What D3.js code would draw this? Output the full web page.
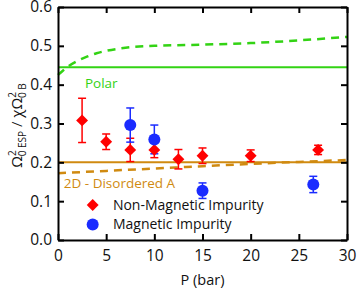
<!DOCTYPE html>
<html>
<head>
<meta charset="utf-8">
<script src="https://cdn.jsdelivr.net/npm/d3@7"></script>
<style>
  body { margin: 0; background: #fff; }
  text { font-family: "Open Sans", "DejaVu Sans", sans-serif; }
</style>
</head>
<body>
<div id="chart"></div>
<script>
// data
var nonMagP   = [2.5, 5, 7.5, 10, 12.5, 15, 20, 27];
var nonMagVal = [0.308, 0.253, 0.232, 0.232, 0.208, 0.217, 0.217, 0.232];
var nonMagErr = [0.057, 0.02, 0.03, 0.02, 0.025, 0.02, 0.015, 0.012];

var magP   = [7.5, 10, 15, 26.5];
var magVal = [0.296, 0.259, 0.127, 0.143];
var magErr = [0.044, 0.037, 0.02, 0.021];

var polarLevel = 0.445;
var disorderedLevel = 0.2;

var polarCurveP   = [0, 0.5, 1, 2, 3, 4, 5, 7, 10, 15, 20, 25, 30];
var polarCurveVal = [0.425, 0.436, 0.446, 0.461, 0.472, 0.481, 0.487, 0.495, 0.5, 0.503, 0.507, 0.514, 0.523];

var disCurveP   = [0, 5, 10, 15, 20, 25, 30];
var disCurveVal = [0.172, 0.178, 0.184, 0.19, 0.196, 0.201, 0.206];

var xTicks = [0, 5, 10, 15, 20, 25, 30];
var yTicks = [0, 0.1, 0.2, 0.3, 0.4, 0.5, 0.6];

(function () {
    var W = 357, H = 293;
    var margin = {top: 7, right: 10, bottom: 53, left: 58};
    var width = W - margin.left - margin.right,
        height = H - margin.top - margin.bottom;

    var svg = d3.select("#chart").append("svg")
        .attr("width", W).attr("height", H)
        .append("g")
        .attr("transform", "translate(" + margin.left + "," + margin.top + ")");

    var x = d3.scaleLinear().domain([0, 30]).range([0, width]);
    var y = d3.scaleLinear().domain([0, 0.6]).range([height, 0]);

    var green = "#33d314", orange = "#d08a10";

    // reference lines
    svg.append("line")
        .attr("x1", x(0)).attr("x2", x(30))
        .attr("y1", y(polarLevel)).attr("y2", y(polarLevel))
        .attr("stroke", green).attr("stroke-width", 2);
    svg.append("line")
        .attr("x1", x(0)).attr("x2", x(30))
        .attr("y1", y(disorderedLevel)).attr("y2", y(disorderedLevel))
        .attr("stroke", orange).attr("stroke-width", 2);

    var line = d3.line()
        .x(function (d) { return x(d[0]); })
        .y(function (d) { return y(d[1]); })
        .curve(d3.curveMonotoneX);

    svg.append("path")
        .datum(d3.zip(polarCurveP, polarCurveVal))
        .attr("d", line)
        .attr("fill", "none").attr("stroke", green)
        .attr("stroke-width", 2.5).attr("stroke-dasharray", "8,6");
    svg.append("path")
        .datum(d3.zip(disCurveP, disCurveVal))
        .attr("d", line)
        .attr("fill", "none").attr("stroke", orange)
        .attr("stroke-width", 2.5).attr("stroke-dasharray", "8,6");

    // error bars + markers
    function errBars(ps, vs, es, color) {
        var g = svg.append("g");
        ps.forEach(function (p, i) {
            var cx = x(p), lo = y(vs[i] - es[i]), hi = y(vs[i] + es[i]);
            g.append("line").attr("x1", cx).attr("x2", cx).attr("y1", lo).attr("y2", hi)
                .attr("stroke", color).attr("stroke-width", 1.5);
            [lo, hi].forEach(function (yy) {
                g.append("line").attr("x1", cx - 4).attr("x2", cx + 4).attr("y1", yy).attr("y2", yy)
                    .attr("stroke", color).attr("stroke-width", 1.5);
            });
        });
    }
    errBars(nonMagP, nonMagVal, nonMagErr, "#ff0000");
    errBars(magP, magVal, magErr, "#1a2bff");

    var diamond = d3.symbol().type(d3.symbolDiamond2).size(90);
    svg.append("g").selectAll("path")
        .data(d3.zip(nonMagP, nonMagVal))
        .enter().append("path")
        .attr("d", diamond)
        .attr("transform", function (d) { return "translate(" + x(d[0]) + "," + y(d[1]) + ")"; })
        .attr("fill", "#ff0000");

    svg.append("g").selectAll("circle")
        .data(d3.zip(magP, magVal))
        .enter().append("circle")
        .attr("cx", function (d) { return x(d[0]); })
        .attr("cy", function (d) { return y(d[1]); })
        .attr("r", 6)
        .attr("fill", "#1a2bff");

    // axes, ticks inside on all four sides
    var tk = 6;
    svg.append("g").attr("transform", "translate(0," + height + ")")
        .call(d3.axisBottom(x).tickValues(xTicks).tickSizeInner(-tk).tickSizeOuter(0).tickPadding(10))
        .call(function (g) {
            g.select(".domain").attr("stroke-width", 2);
            g.selectAll(".tick line").attr("stroke-width", 2);
            g.selectAll("text").style("font-size", "15.5px").attr("fill", "#111");
        });
    svg.append("g")
        .call(d3.axisTop(x).tickValues(xTicks).tickSizeInner(-tk).tickSizeOuter(0).tickFormat(""))
        .call(function (g) {
            g.select(".domain").attr("stroke-width", 2);
            g.selectAll(".tick line").attr("stroke-width", 2);
        });
    svg.append("g")
        .call(d3.axisLeft(y).tickValues(yTicks).tickSizeInner(-tk).tickSizeOuter(0).tickPadding(6)
            .tickFormat(d3.format(".1f")))
        .call(function (g) {
            g.select(".domain").attr("stroke-width", 2);
            g.selectAll(".tick line").attr("stroke-width", 2);
            g.selectAll("text").style("font-size", "15.5px").attr("fill", "#111");
        });
    svg.append("g").attr("transform", "translate(" + width + ",0)")
        .call(d3.axisRight(y).tickValues(yTicks).tickSizeInner(-tk).tickSizeOuter(0).tickFormat(""))
        .call(function (g) {
            g.select(".domain").attr("stroke-width", 2);
            g.selectAll(".tick line").attr("stroke-width", 2);
        });

    // line labels
    svg.append("text").attr("x", x(2.8)).attr("y", y(0.392))
        .style("font-size", "13.5px").attr("fill", green).text("Polar");
    svg.append("text").attr("x", x(0.6)).attr("y", y(0.135))
        .style("font-size", "13.5px").attr("fill", orange).text("2D - Disordered A");

    // legend
    svg.append("path").attr("d", diamond)
        .attr("transform", "translate(" + x(3.6) + "," + y(0.09) + ")").attr("fill", "#ff0000");
    svg.append("text").attr("x", x(5.7)).attr("y", y(0.09)).attr("dy", "0.35em")
        .style("font-size", "14px").attr("fill", "#111").text("Non-Magnetic Impurity");
    svg.append("circle").attr("cx", x(3.6)).attr("cy", y(0.04)).attr("r", 6).attr("fill", "#1a2bff");
    svg.append("text").attr("x", x(5.7)).attr("y", y(0.04)).attr("dy", "0.35em")
        .style("font-size", "14px").attr("fill", "#111").text("Magnetic Impurity");

    // axis titles
    svg.append("text").attr("x", width / 2).attr("y", height + 45)
        .attr("text-anchor", "middle").style("font-size", "14.5px").attr("fill", "#111")
        .text("P (bar)");

    var yl = svg.append("text")
        .attr("transform", "translate(-36," + (height / 2 + 2) + ") rotate(-90)")
        .attr("text-anchor", "middle").style("font-size", "15px").attr("fill", "#111");
    yl.append("tspan").text("Ω");
    yl.append("tspan").attr("dy", "-6").style("font-size", "10px").text("2");
    yl.append("tspan").attr("dx", "-6").attr("dy", "10").style("font-size", "10px").text("0 ESP");
    yl.append("tspan").attr("dy", "-4").text(" / χΩ");
    yl.append("tspan").attr("dy", "-6").style("font-size", "10px").text("2");
    yl.append("tspan").attr("dx", "-6").attr("dy", "10").style("font-size", "10px").text("0 B");
})();
</script>
</body>
</html>
